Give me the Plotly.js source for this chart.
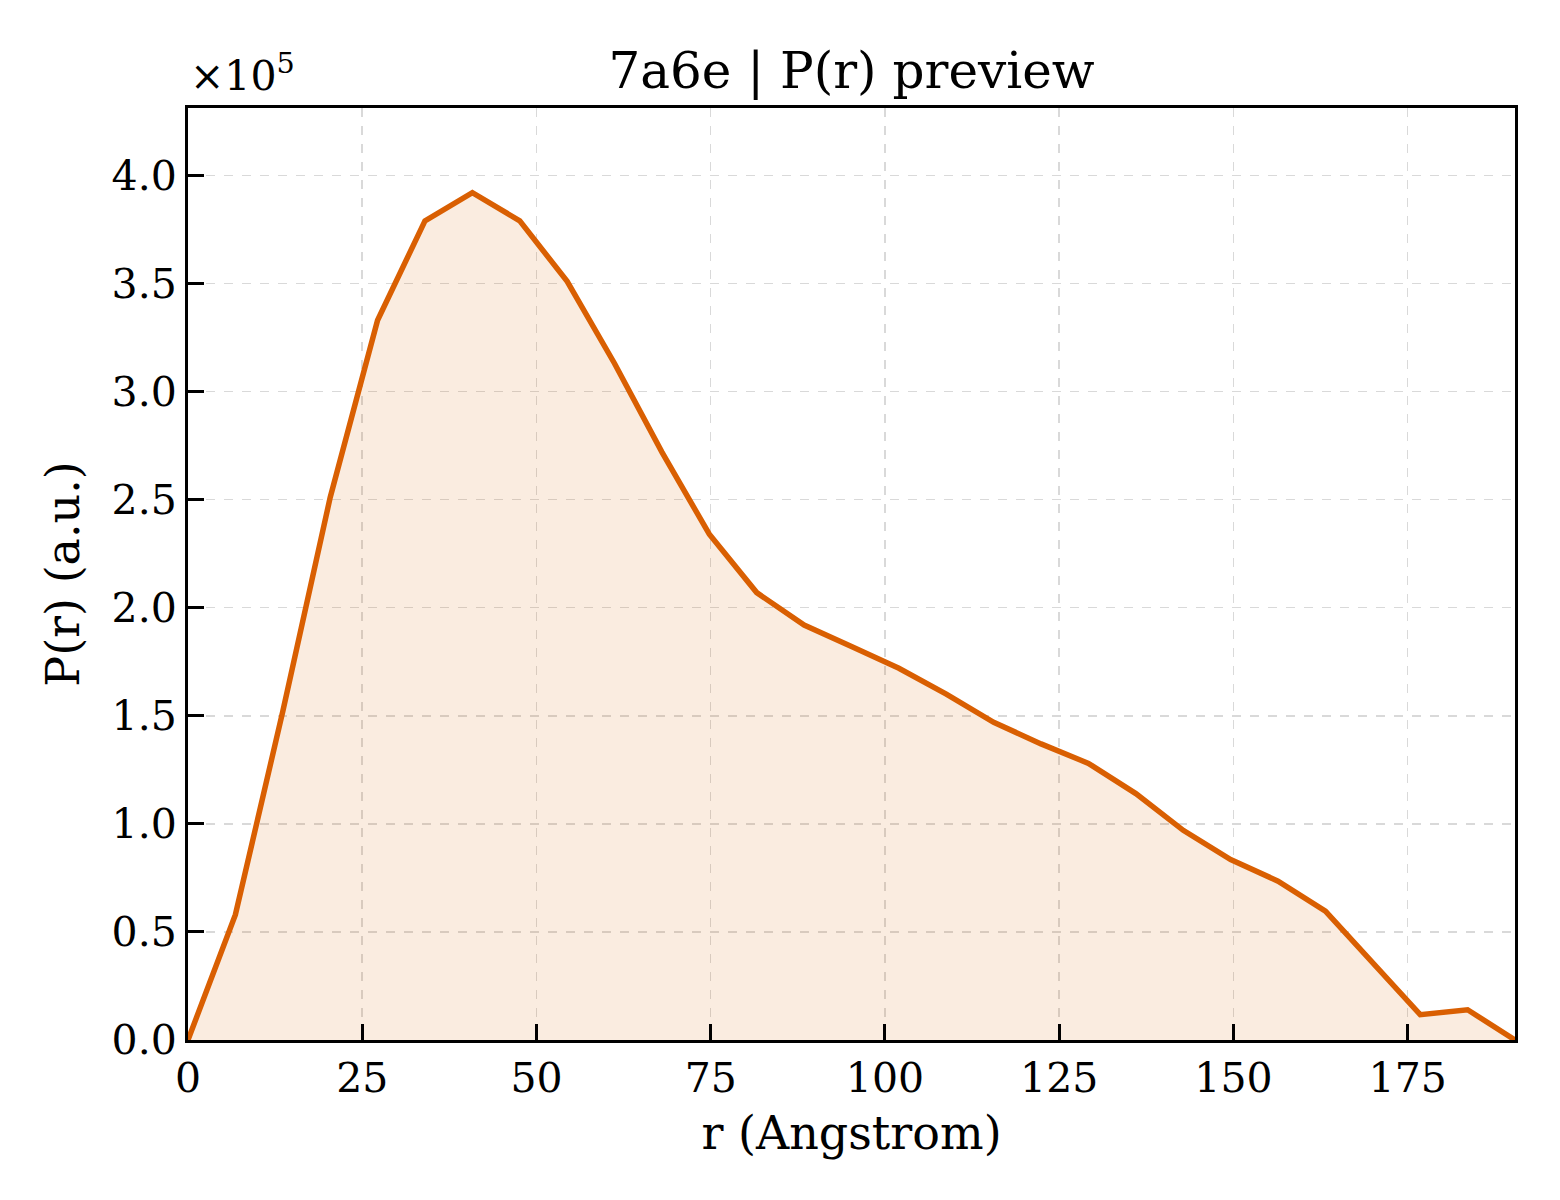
<!DOCTYPE html>
<html>
<head>
<meta charset="utf-8">
<script src="https://cdn.plot.ly/plotly-3.0.1.min.js"></script>
<style>
  body { margin: 0; background: #fff; }
  #chart { width: 1560px; height: 1200px; }
</style>
</head>
<body>
<div id="chart"></div>
<script>
// P(r) curve, r in Angstrom, P(r) in a.u.
var rVals = [0, 6.8, 13.6, 20.4, 27.2, 34.0, 40.8, 47.6, 54.4, 61.2,
             68.0, 74.8, 81.6, 88.4, 95.2, 102.0, 108.8, 115.6, 122.4, 129.2,
             136.0, 142.8, 149.6, 156.4, 163.2, 170.0, 176.8, 183.6, 190.4];
var prVals = [0, 58000, 152000, 251000, 333000, 379000, 392000, 379000, 351000, 313000,
              272000, 234000, 207000, 192000, 182000, 172000, 160000, 147000, 137000, 128000,
              114000, 97000, 83500, 73500, 59600, 36000, 11700, 14000, 0];

var yTickVals = [0, 50000, 100000, 150000, 200000, 250000, 300000, 350000, 400000];
var yTickText = ['0.0', '0.5', '1.0', '1.5', '2.0', '2.5', '3.0', '3.5', '4.0'];
var xTickVals = [0, 25, 50, 75, 100, 125, 150, 175];

var lineColor = '#d95f02';
var serif = 'DejaVu Serif, serif';

var trace = {
  x: rVals,
  y: prVals,
  type: 'scatter',
  mode: 'lines',
  line: { color: lineColor, width: 5.5 },
  fill: 'tozeroy',
  fillcolor: 'rgba(217,95,2,0.12)',
  hoverinfo: 'skip'
};

var axisCommon = {
  showline: true,
  mirror: true,
  linecolor: '#000',
  linewidth: 3,
  ticks: 'inside',
  ticklen: 16,
  tickwidth: 3,
  tickcolor: '#000',
  showgrid: true,
  gridcolor: '#d9d9d9',
  gridwidth: 1.5,
  griddash: 'dash',
  zeroline: false,
  tickfont: { family: serif, size: 41, color: '#000' }
};

var layout = {
  width: 1560,
  height: 1200,
  margin: { l: 188, r: 45, t: 108, b: 160 },
  paper_bgcolor: '#fff',
  plot_bgcolor: '#fff',
  showlegend: false,
  font: { family: serif, color: '#000' },
  title: {
    text: '7a6e | P(r) preview',
    font: { family: serif, size: 50, color: '#000' },
    x: 0.5, xref: 'paper', xanchor: 'center',
    y: 1, yref: 'paper', yanchor: 'bottom',
    pad: { b: 20 }
  },
  xaxis: Object.assign({}, axisCommon, {
    range: [0, 190.4],
    tickvals: xTickVals,
    title: { text: 'r (Angstrom)', font: { family: serif, size: 46, color: '#000' }, standoff: 16 }
  }),
  yaxis: Object.assign({}, axisCommon, {
    range: [0, 431200],
    tickvals: yTickVals,
    ticktext: yTickText,
    title: { text: 'P(r) (a.u.)', font: { family: serif, size: 46, color: '#000' }, standoff: 18 }
  }),
  annotations: [{
    text: '×10<sup>5</sup>',
    xref: 'paper', yref: 'paper',
    x: 0, y: 1,
    xanchor: 'left', yanchor: 'bottom',
    xshift: 0, yshift: 6,
    showarrow: false,
    font: { family: serif, size: 41, color: '#000' }
  }]
};

Plotly.newPlot('chart', [trace], layout, { displayModeBar: false, staticPlot: true });
</script>
</body>
</html>
